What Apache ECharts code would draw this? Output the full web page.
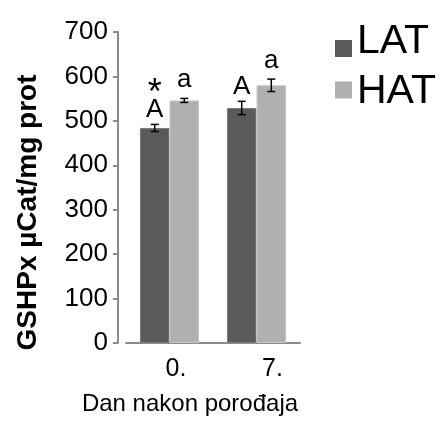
<!DOCTYPE html>
<html>
<head>
<meta charset="utf-8">
<script src="https://cdn.jsdelivr.net/npm/echarts@6/dist/echarts.min.js"></script>
<style>
html,body{margin:0;padding:0;background:#fff;}
#chart{width:442px;height:421px;}
</style>
</head>
<body>
<div id="chart"></div>
<script>
// ---- data ----
const categories = ['0.', '7.'];
const seriesNames = ['LAT', 'HAT'];
const latValues = [484, 529];
const hatValues = [546, 580];
const latErrors = [8, 15];
const hatErrors = [4.5, 14];
const latMarks = ['*\nA', 'A'];
const hatMarks = ['a', 'a'];
const yMin = 0, yMax = 700, yStep = 100;
const yAxisTitle = 'GSHPx µCat/mg prot';
const xAxisTitle = 'Dan nakon porođaja';

// ---- style ----
const FONT = 'Arial, "Liberation Sans", sans-serif';
const COLORS = ['#5a5a5a', '#b0b0b0'];
const BORDERS = ['#7c7c7c', '#c6c6c6'];
const CAT_GAP = 0.32;
const MARK_FS = 26;

function errSeries(values, errors, marks, side, gap) {
  return {
    type: 'custom',
    silent: true,
    z: 5,
    data: values.map((v, i) => [i, v, errors[i]]),
    renderItem: function (params, api) {
      const idx = api.value(0), v = api.value(1), e = api.value(2);
      const lines = marks[params.dataIndex].split('\n');
      const band = api.size([1, 0])[0];
      const cx = api.coord([idx, v])[0] + side * band * (1 - CAT_GAP) / 4;
      const yt = api.coord([idx, v + e])[1];
      const yb = api.coord([idx, v - e])[1];
      const cap = 4;
      const ls = { stroke: '#000', lineWidth: 1.5 };
      const children = [
        { type: 'line', shape: { x1: cx, y1: yt, x2: cx, y2: yb }, style: ls },
        { type: 'line', shape: { x1: cx - cap, y1: yt, x2: cx + cap, y2: yt }, style: ls },
        { type: 'line', shape: { x1: cx - cap, y1: yb, x2: cx + cap, y2: yb }, style: ls }
      ];
      let base = yt - gap;
      for (let k = lines.length - 1; k >= 0; k--) {
        const t = lines[k];
        const star = t === '*';
        const fs = star ? 36 : MARK_FS;
        children.push({ type: 'text', x: cx, y: star ? base - 1 : base - 0.28 * fs,
          style: { text: t, align: 'center', verticalAlign: 'middle',
                   font: fs + 'px ' + FONT, fill: '#000' } });
        base -= 22;
      }
      return { type: 'group', children: children };
    }
  };
}

const chart = echarts.init(document.getElementById('chart'), null, { renderer: 'canvas' });
chart.setOption({
  animation: false,
  backgroundColor: '#fff',
  textStyle: { fontFamily: FONT },
  grid: { left: 126, right: 142, top: 32, bottom: 70, containLabel: false },
  legend: {
    orient: 'vertical',
    left: 335,
    top: 21,
    padding: 0,
    itemGap: 9,
    itemWidth: 17,
    itemHeight: 31,
    itemStyle: { borderWidth: 0 },
    data: [
      { name: seriesNames[0], icon: 'path://M0,0L0.01,0L0.01,0.01Z M0,14L17,14L17,31L0,31Z' },
      { name: seriesNames[1], icon: 'path://M0,0L0.01,0L0.01,0.01Z M0,5.5L17,5.5L17,22.5L0,22.5Z M0,31L0.01,31L0.01,30.99Z' }
    ],
    textStyle: { fontSize: 41, color: '#000', fontFamily: FONT }
  },
  xAxis: {
    type: 'category',
    data: categories.map((c, i) => ({ value: c, textStyle: { padding: i === 0 ? [0, 0, 0, 13] : [0, 0, 0, 32] } })),
    axisLine: { lineStyle: { color: '#8c8c8c', width: 2 } },
    axisTick: { show: false },
    axisLabel: { fontSize: 25, color: '#000', margin: 14, fontFamily: FONT },
    name: xAxisTitle,
    nameLocation: 'middle',
    nameGap: 49,
    nameTextStyle: { fontSize: 24, color: '#000', fontFamily: FONT, padding: [0, 46, 0, 0] }
  },
  yAxis: {
    type: 'value',
    min: yMin, max: yMax, interval: yStep,
    offset: 8,
    axisLine: { show: true, lineStyle: { color: '#8c8c8c', width: 2 } },
    axisTick: { show: true, length: 5, lineStyle: { color: '#8c8c8c', width: 2 } },
    splitLine: { show: false },
    axisLabel: { fontSize: 26, color: '#000', margin: 10, fontFamily: FONT },
    name: yAxisTitle,
    nameLocation: 'middle',
    nameGap: 76,
    nameRotate: 90,
    nameTextStyle: { fontSize: 28, fontWeight: 'bold', color: '#000', fontFamily: FONT, padding: [0, 50, 0, 0] }
  },
  series: [
    { name: seriesNames[0], type: 'bar', data: latValues, barGap: '0%', barCategoryGap: (CAT_GAP * 100) + '%',
      itemStyle: { color: COLORS[0], borderColor: BORDERS[0], borderWidth: 1 } },
    { name: seriesNames[1], type: 'bar', data: hatValues, barGap: '0%', barCategoryGap: (CAT_GAP * 100) + '%',
      itemStyle: { color: COLORS[1], borderColor: BORDERS[1], borderWidth: 1 } },
    errSeries(latValues, latErrors, latMarks, -1, 7),
    errSeries(hatValues, hatErrors, hatMarks, 1, 11)
  ]
});
</script>
</body>
</html>
